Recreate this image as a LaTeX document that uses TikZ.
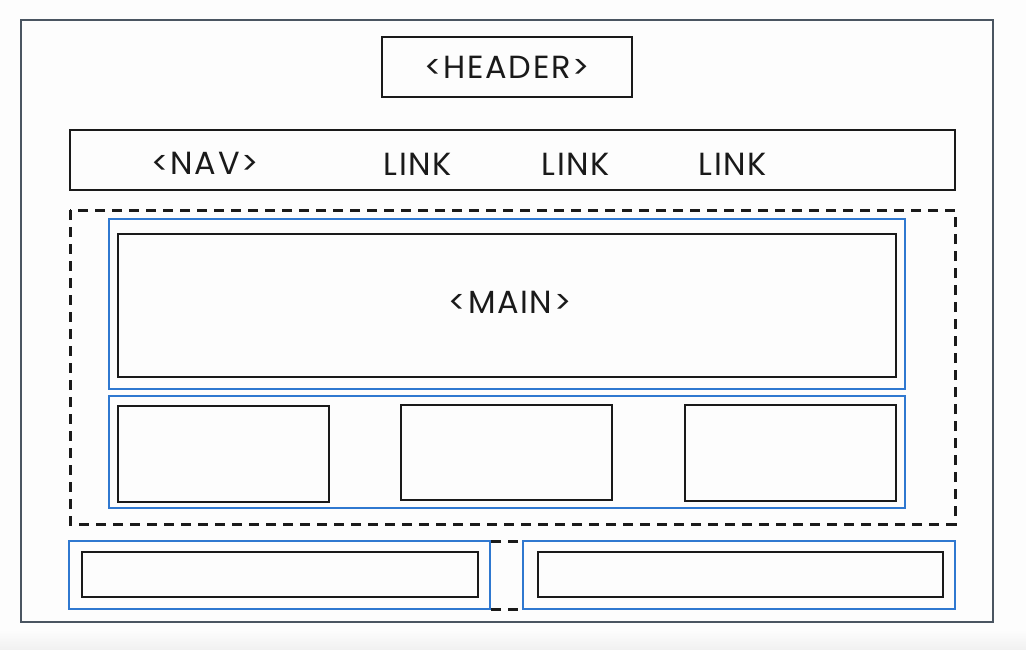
\documentclass[tikz,border=0pt]{standalone}
\usepackage{fontspec}
\setmainfont{Poppins}[LetterSpace=5]
\definecolor{frame}{HTML}{4A5561}
\definecolor{bluebox}{HTML}{2F78D0}
\definecolor{ink}{HTML}{1A1A1A}
\definecolor{paper}{HTML}{FDFDFD}
\definecolor{strip}{HTML}{F1F1F1}
\begin{document}
\begin{tikzpicture}[x=1pt,y=-1pt,
  blk/.style={draw=ink,line width=2.8pt},
  blu/.style={draw=bluebox,line width=2.8pt,fill=paper},
  dsh/.style={draw=ink,line width=3pt,dash pattern=on 10pt off 7pt},
  lbl/.style={font=\fontsize{32}{34}\selectfont,text=ink}]
\fill[paper] (0,0) rectangle (1026,649);
\shade[top color=paper,bottom color=strip] (0,630) rectangle (1026,649);
\useasboundingbox (0,0) rectangle (1026,649);
% outer frame
\draw[draw=frame,line width=2.4pt] (21,20) rectangle (993,622);
% header
\draw[blk] (382,37) rectangle (632,97);
\node[lbl] (header) at (507,67) {<HEADER>};
% nav
\draw[blk] (70,130) rectangle (955,190);
\node[lbl] (nav) at (205,163) {<NAV>};
\node[lbl] (link1) at (418,164) {LINK};
\node[lbl] (link2) at (576,164) {LINK};
\node[lbl] (link3) at (733,164) {LINK};
% dashed section
\draw[dsh] (70,210) rectangle (955,524);
% main
\draw[blu] (109,219) rectangle (905,389);
\draw[blk] (118,234) rectangle (896,377);
\node[lbl] (main) at (510,302) {<MAIN>};
% row of three
\draw[blu] (109,396) rectangle (905,508);
\draw[blk] (118,406) rectangle (329,502);
\draw[blk] (401,405) rectangle (612,500);
\draw[blk] (685,405) rectangle (896,501);
% bottom (dashed wrapper visible only in the gap)
\begin{scope}
\clip (491,530) rectangle (522,620);
\draw[dsh,dash phase=4pt] (70,541) rectangle (955,609);
\end{scope}
\draw[blu] (69,541) rectangle (490,609);
\draw[blk] (82,552) rectangle (478,597);
\draw[blu] (523,541) rectangle (955,609);
\draw[blk] (538,552) rectangle (943,597);
\end{tikzpicture}
\end{document}
